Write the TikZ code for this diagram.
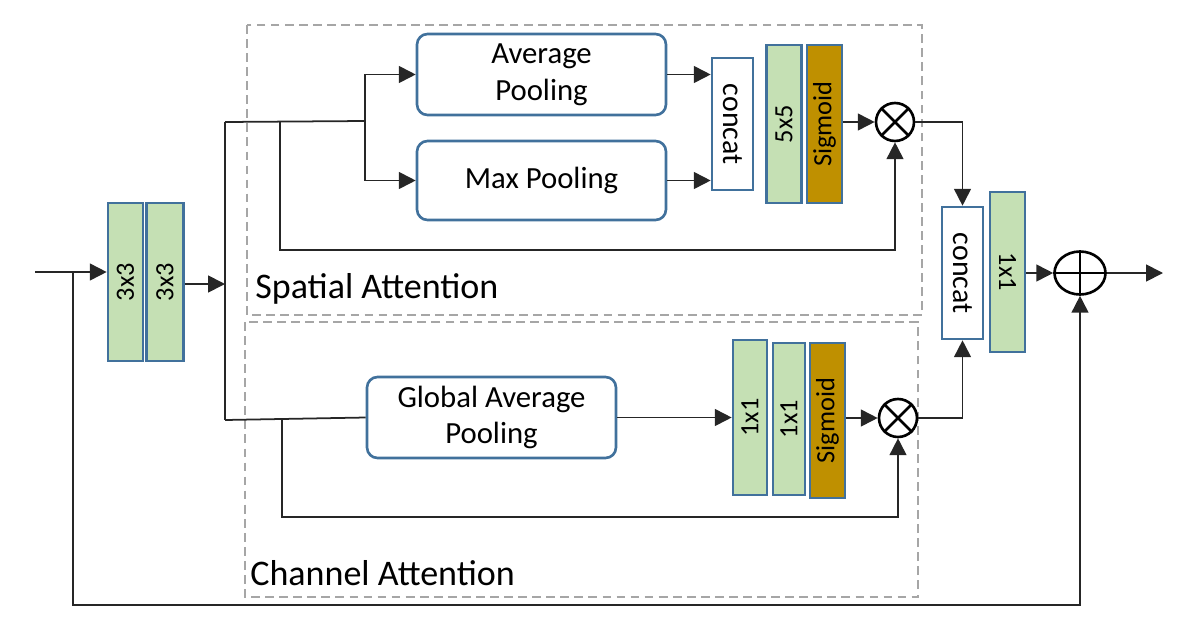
\documentclass[tikz,border=0pt]{standalone}
\usepackage{fontspec}
\setmainfont{Carlito}
\usepackage{graphicx}
\usetikzlibrary{arrows.meta, shapes.geometric}
\definecolor{blkEdge}{HTML}{41719C}
\definecolor{blkConv}{HTML}{C5E0B4}
\definecolor{blkSig}{HTML}{BF9000}
\definecolor{blkFrame}{HTML}{A6A6A6}
\definecolor{blkLine}{HTML}{262626}
\tikzset{
  attfig/.style={
    x=0.02cm, y=-0.02cm,
    >={Triangle[length=9.6pt,width=9.6pt]},
  },
  convbox/.style={
    draw=blkEdge, line width=1.5pt, fill=blkConv, inner sep=0pt,
    minimum width=7mm, minimum height=31.6mm, font=\fontsize{15}{17}\selectfont,
  },
  sigbox/.style={convbox, fill=blkSig},
  catbox/.style={convbox, fill=white, minimum width=8.2mm, minimum height=26.4mm,
    font=\fontsize{17}{19}\selectfont},
  poolbox/.style={
    draw=blkEdge, line width=1.5pt, rounded corners=6pt, align=center,
    minimum width=49.8mm, minimum height=16.2mm, font=\fontsize{17.5}{21}\selectfont,
  },
  opnode/.style={circle, draw=black, line width=1.5pt, minimum size=7.6mm, inner sep=0pt},
  % gestrichelte Rahmen der beiden Attention-Zweige
  frame/.style={draw=blkFrame, line width=1.5pt, dash pattern=on 5pt off 3pt},
  flow/.style={draw=blkLine, line width=1pt},
  flowto/.style={flow, ->},
  areatitle/.style={anchor=base west, inner sep=0pt, font=\fontsize{20.5}{24}\selectfont},
}
\begin{document}
\begin{tikzpicture}[attfig]
  \useasboundingbox (0,0) rectangle (1182,632);
  \draw[frame] (247,25) rectangle (922,315);
  \draw[frame] (245,322) rectangle (918,597);
  \node[areatitle] (spatialtitle) at (255,298) {Spatial Attention};
  \node[areatitle] (channeltitle) at (250,585) {Channel Attention};

  % Eingang
  \node[convbox] (conv3a) at (125.5,282) {\rotatebox{90}{3x3}};
  \node[convbox, minimum width=7.4mm] (conv3b) at (165,282) {\rotatebox{90}{3x3}};

  % Spatial Attention
  \node[poolbox] (avgpool) at (541.5,74.5) {Average\\Pooling};
  \node[poolbox, minimum height=15.8mm] (maxpool) at (541.5,180.5) {Max Pooling};
  \node[catbox] (cat1) at (732.5,124) {\rotatebox{-90}{concat}};
  \node[convbox] (conv5) at (784,124) {\rotatebox{90}{5x5}};
  \node[sigbox] (sig1) at (824.5,124) {\rotatebox{90}{Sigmoid}};
  \node[opnode] (mul1) at (895,122) {};

  % Channel Attention
  \node[poolbox] (gap) at (491.5,417.5) {Global Average\\Pooling};
  \node[convbox, minimum width=6.8mm, minimum height=31mm] (conv1a) at (750,417.5) {\rotatebox{90}{1x1}};
  \node[convbox, minimum width=6.4mm, minimum height=30.4mm] (conv1b) at (789,419) {\rotatebox{90}{1x1}};
  \node[sigbox, minimum height=31mm] (sig2) at (827.5,420.5) {\rotatebox{90}{Sigmoid}};
  \node[opnode] (mul2) at (898,418) {};

  % Ausgang
  \node[catbox] (cat2) at (962.5,273) {\rotatebox{-90}{concat}};
  \node[convbox, minimum height=32mm] (conv1out) at (1007.5,272) {\rotatebox{-90}{1x1}};
  \node[ellipse, draw=black, line width=1.5pt, minimum width=10.2mm, minimum height=8.6mm,
    inner sep=0pt] (add) at (1080,273) {};

  \draw[line width=1.5pt] (mul1.north west) -- (mul1.south east) (mul1.north east) -- (mul1.south west);
  \draw[line width=1.5pt] (mul2.north west) -- (mul2.south east) (mul2.north east) -- (mul2.south west);
  \draw[line width=1.5pt] (add.north) -- (add.south) (add.west) -- (add.east);

  \coordinate (in) at (35,272);
  \coordinate (res) at (73,272);
  \coordinate (bus) at (225,284);
  \coordinate (busT) at (225,122);
  \coordinate (busB) at (225,420);
  \coordinate (fork) at (365,121);
  \coordinate (skipS) at (280,122);
  \coordinate (skipC) at (282,420);
  \coordinate (out) at (1163,273);

  \draw[flowto] (in) -- (in -| conv3a.west);
  \draw[flowto] (conv3b.east |- bus) -- (bus);
  \draw[flow] (busT) -- (busB);
  \draw[flow] (busT) -- (fork);
  \draw[flowto] (fork) |- (avgpool.west);
  \draw[flowto] (fork) |- (maxpool.west);
  \draw[flowto] (avgpool.east) -- (avgpool.east -| cat1.west);
  \draw[flowto] (maxpool.east) -- (maxpool.east -| cat1.west);
  \draw[flowto] (sig1.east |- mul1) -- (mul1.west);
  \draw[flowto] (skipS) -- ++(0,128) -| (mul1.south);
  \draw[flowto] (mul1.east) -| (cat2.north);

  \draw[flow] (busB) -- (gap.west);
  \draw[flowto] (gap.east) -- (gap.east -| conv1a.west);
  \draw[flowto] (sig2.east |- mul2) -- (mul2.west);
  \draw[flowto] (skipC) -- ++(0,97) -| (mul2.south);
  \draw[flowto] (mul2.east) -| (cat2.south);

  \draw[flowto] (conv1out.east |- add) -- (add.west);
  \draw[flowto] (add.east) -- (out);
  \draw[flowto] (res) -- ++(0,333) -| (add.south);
\end{tikzpicture}
\end{document}
